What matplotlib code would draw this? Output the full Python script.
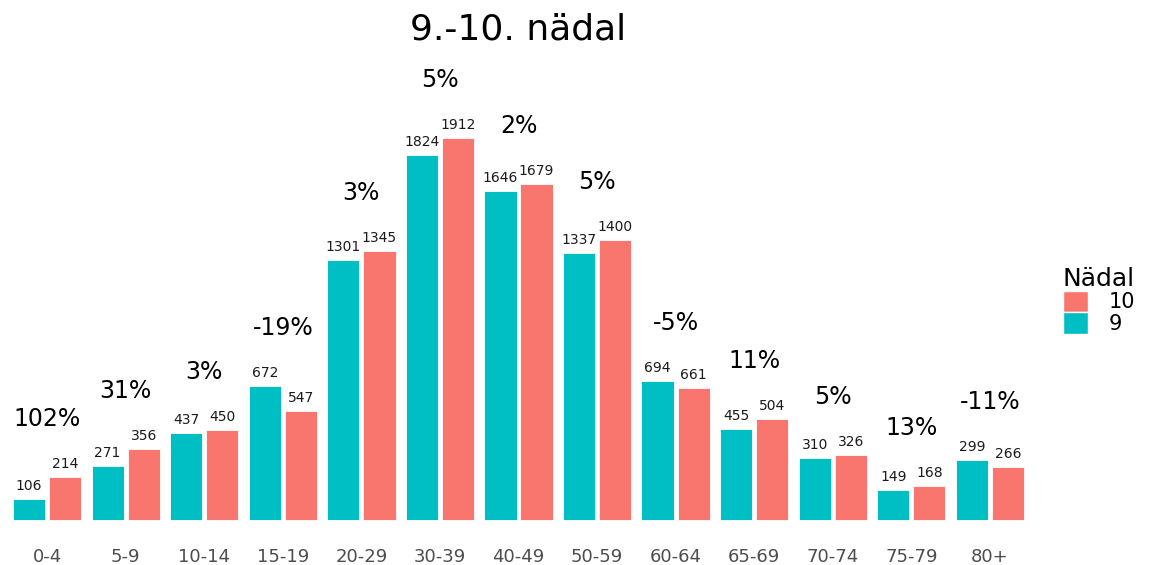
import matplotlib.pyplot as plt
import numpy as np
from matplotlib.patches import Patch

age_groups = ['0-4', '5-9', '10-14', '15-19', '20-29', '30-39', '40-49',
              '50-59', '60-64', '65-69', '70-74', '75-79', '80+']
week9 = [106, 271, 437, 672, 1301, 1824, 1646, 1337, 694, 455, 310, 149, 299]
week10 = [214, 356, 450, 547, 1345, 1912, 1679, 1400, 661, 504, 326, 168, 266]
change = ['102%', '31%', '3%', '-19%', '3%', '5%', '2%', '5%', '-5%', '11%', '5%', '13%', '-11%']

teal = '#00BFC4'
salmon = '#F8766D'

fig = plt.figure(figsize=(11.5, 5.65), dpi=100)
ax = fig.add_axes([0.0, 25 / 565, 1037 / 1150, 480 / 565])

x = np.arange(len(age_groups))
w = 0.41
ax.bar(x - 0.23, week9, width=w, color=teal, edgecolor='white', linewidth=0.6)
ax.bar(x + 0.23, week10, width=w, color=salmon, edgecolor='white', linewidth=0.6)

for i in range(len(age_groups)):
    ax.text(x[i] - 0.23, week9[i] + 30, str(week9[i]), ha='center', va='bottom',
            fontsize=10, color='#1a1a1a')
    ax.text(x[i] + 0.23, week10[i] + 30, str(week10[i]), ha='center', va='bottom',
            fontsize=10, color='#1a1a1a')
    top = max(week9[i], week10[i])
    ax.text(x[i], top + 290, change[i], ha='center', va='center', fontsize=17,
            color='black')

ax.set_xlim(-0.6, len(age_groups) - 0.4)
ax.set_ylim(-100, 2300)
ax.set_xticks(x)
ax.set_xticklabels(age_groups, fontsize=13, color='#4d4d4d')
ax.tick_params(axis='x', length=0, pad=6)
ax.set_yticks([])
for s in ax.spines.values():
    s.set_visible(False)

fig.text(518 / 1150, 1 - 30 / 565, '9.-10. nädal', ha='center', va='center',
         fontsize=26)

handles = [Patch(facecolor=salmon, edgecolor='white'),
           Patch(facecolor=teal, edgecolor='white')]
leg = fig.legend(handles, ['10', '9'], title='Nädal', loc='upper left',
                 bbox_to_anchor=(1044 / 1150, 1 - 248 / 565), frameon=False,
                 fontsize=15, title_fontsize=18, handlelength=1.2,
                 handleheight=1.2, labelspacing=0.0, handletextpad=1.0,
                 alignment='left')

fig.savefig('out.png', dpi=100)
plt.close(fig)
